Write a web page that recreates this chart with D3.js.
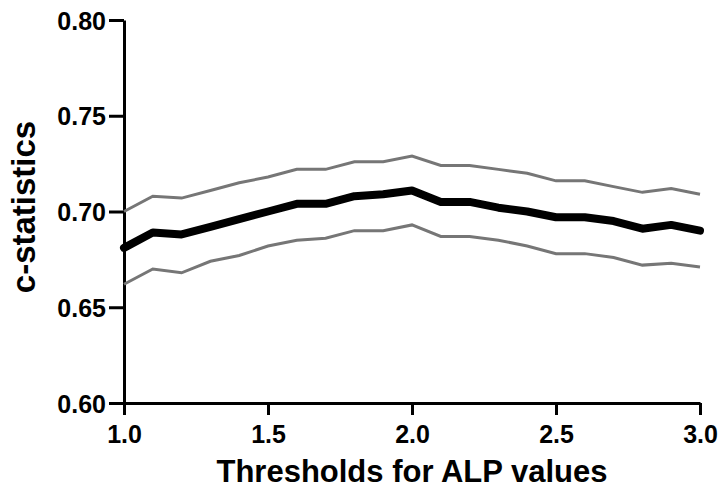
<!DOCTYPE html>
<html>
<head>
<meta charset="utf-8">
<script src="https://cdn.jsdelivr.net/npm/d3@7"></script>
<style>
  body { margin: 0; background: #fff; }
  svg { display: block; font-family: "Liberation Sans", Arial, sans-serif; font-weight: bold; }
  .axis path, .axis line { stroke: #000; stroke-width: 3; }
  .axis text { font-size: 25px; font-weight: bold; fill: #000; }
  .axis-label { font-size: 31px; font-weight: bold; fill: #000; }
</style>
</head>
<body>
<div id="chart"></div>
<script>
// c-statistics across ALP thresholds, with upper / lower bounds

const width = 723;
const height = 497;
const margin = { top: 20, right: 23, bottom: 94, left: 124 };

const thresholds = [1.0, 1.1, 1.2, 1.3, 1.4, 1.5, 1.6, 1.7, 1.8, 1.9, 2.0,
  2.1, 2.2, 2.3, 2.4, 2.5, 2.6, 2.7, 2.8, 2.9, 3.0];
const cStat = [0.681, 0.689, 0.688, 0.692, 0.696, 0.700, 0.704, 0.704, 0.708, 0.709, 0.711,
  0.705, 0.705, 0.702, 0.700, 0.697, 0.697, 0.695, 0.691, 0.693, 0.690];
const upper = [0.700, 0.708, 0.707, 0.711, 0.715, 0.718, 0.722, 0.722, 0.726, 0.726, 0.729,
  0.724, 0.724, 0.722, 0.720, 0.716, 0.716, 0.713, 0.710, 0.712, 0.709];
const lower = [0.662, 0.670, 0.668, 0.674, 0.677, 0.682, 0.685, 0.686, 0.690, 0.690, 0.693,
  0.687, 0.687, 0.685, 0.682, 0.678, 0.678, 0.676, 0.672, 0.673, 0.671];
const xTicks = [1.0, 1.5, 2.0, 2.5, 3.0];
const yTicks = [0.60, 0.65, 0.70, 0.75, 0.80];

const chartWidth = width - margin.left - margin.right;
const chartHeight = height - margin.top - margin.bottom;

const svg = d3.select("#chart")
  .append("svg")
  .attr("width", width)
  .attr("height", height);

const chart = svg.append("g")
  .attr("transform", `translate(${margin.left}, ${margin.top})`);

const xScale = d3.scaleLinear()
  .domain([1.0, 3.0])
  .range([0, chartWidth]);

const yScale = d3.scaleLinear()
  .domain([0.60, 0.80])
  .range([chartHeight, 0]);

chart.append("g")
  .attr("class", "axis")
  .attr("transform", `translate(0, ${chartHeight})`)
  .call(d3.axisBottom(xScale).tickValues(xTicks).tickFormat(d3.format(".1f")).tickSize(12).tickSizeOuter(0).tickPadding(10));

chart.append("g")
  .attr("class", "axis")
  .call(d3.axisLeft(yScale).tickValues(yTicks).tickFormat(d3.format(".2f")).tickSize(15).tickSizeOuter(0).tickPadding(3))
  .selectAll("text").attr("dy", "0.36em");

const lineGenerator = d3.line()
  .x((d, i) => xScale(thresholds[i]))
  .y(d => yScale(d));

[upper, lower].forEach(series => {
  chart.append("path")
    .datum(series)
    .attr("fill", "none")
    .attr("stroke", "#767676")
    .attr("stroke-width", 3)
    .attr("d", lineGenerator);
});

chart.append("path")
  .datum(cStat)
  .attr("fill", "none")
  .attr("stroke", "#000")
  .attr("stroke-width", 8)
  .attr("stroke-linejoin", "round")
  .attr("stroke-linecap", "round")
  .attr("d", lineGenerator);

svg.append("text")
  .attr("class", "axis-label")
  .attr("x", margin.left + chartWidth / 2)
  .attr("y", 482)
  .attr("text-anchor", "middle")
  .text("Thresholds for ALP values");

svg.append("text")
  .attr("class", "axis-label")
  .attr("transform", "rotate(-90)")
  .attr("x", -207)
  .attr("y", 35)
  .attr("text-anchor", "middle")
  .style("font-size", "33px")
  .text("c-statistics");
</script>
</body>
</html>
